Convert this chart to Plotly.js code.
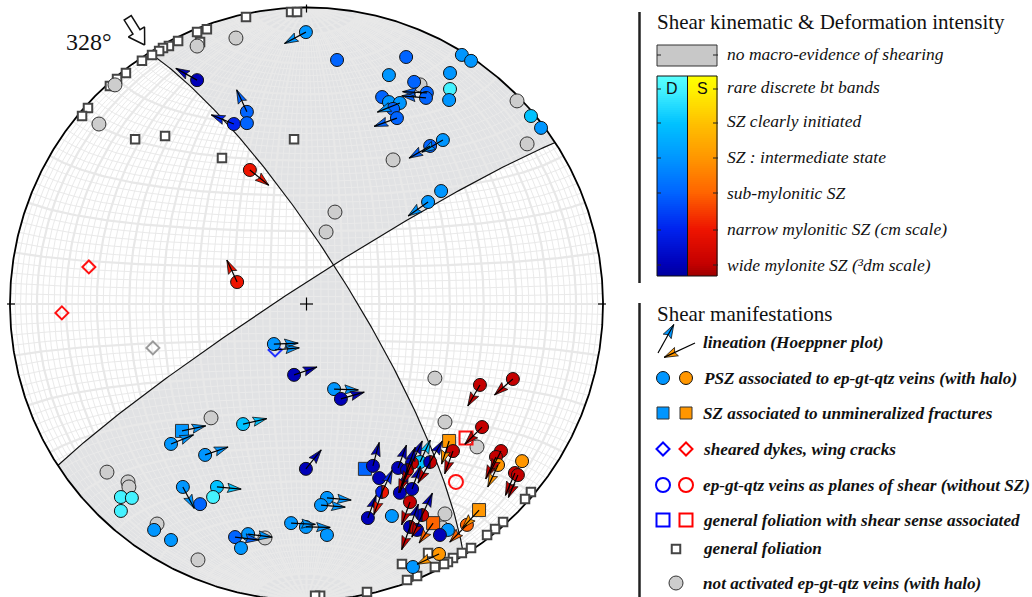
<!DOCTYPE html>
<html><head><meta charset="utf-8">
<script src="https://cdn.plot.ly/plotly-3.0.1.min.js"></script>
<style>html,body{margin:0;padding:0;background:#fff}#chart{width:1032px;height:597px}</style>
</head><body><div id="chart"></div>
<script>
// ---------------- DATA (equal-area lower-hemisphere coordinates, % of primitive radius) ----------------
// general foliation (poles)
const folX = [-5.2,-3.2,-20.4,-33.6,-36.9,-35.9,-43.3,-46.4,-48.4,-49.7,-52.1,-55.5,-60.9,-63.9,-66.3,-73.7,-75.7,-57.8,-47.7,-28.5,-4.2,
              75.7,73.7,66.3,63.6,60.9,55.5,52.4,49.4,47.7,46.4,43.3,37.3,33.9,20.4,4.6,2.9,41.0,32.2];
const folY = [98.5,98.5,96.8,92.7,91.7,88.4,88.7,87.0,86.3,85.3,84.0,82.0,77.9,75.9,73.5,66.1,63.4,55.6,56.7,49.2,55.6,
              -63.4,-65.8,-73.5,-75.9,-77.9,-82.3,-84.0,-85.7,-87.0,-87.7,-88.7,-91.7,-93.1,-97.1,-98.4,-98.4,-84.0,-87.7];
// not activated ep-gt-qtz veins
const grayX = [-36.9,-23.8,-64.6,-70.0,71.0,74.4,29.2,38.3,9.6,6.6,43.3,46.7,57.5,46.7,45.7,-32.2,-67.3,-60.2,-59.9,-50.4,-36.6,-14.0];
const grayY = [87.0,89.7,73.9,60.7,68.5,54.0,48.6,73.9,31.0,24.3,-25.0,-39.8,-48.2,-70.8,-75.5,-38.4,-56.7,-60.0,-61.7,-74.2,-86.3,-78.9];
// PSZ associated to veins: sense D (dextral/blue), S (sinistral/red), B (both); level 1..6
const pszX = [-0.2,10.3,33.6,27.8,52.4,55.5,48.4,48.4,48.1,36.3,40.6,40.3,25.5,27.8,31.5,29.2,30.5,46.0,41.7,75.7,79.1,45.4,41.0,-36.9,-20.1,-20.1,-24.5,-19.1,-23.4,
              -11.0,-4.2,9.3,11.6,-21.4,-45.7,-34.2,-0.2,-41.7,-35.9,-30.2,-31.5,-62.6,-58.9,-62.6,-51.4,-45.7,-5.2,-0.2,-24.1,-19.7,-22.1,6.9,4.9,6.9,35.9,47.7,45.0,
              58.5,69.6,59.2,49.4,65.6,63.9,64.6,72.7,70.3,71.3,54.1,44.7,
              22.4,24.5,25.5,30.9,33.9,35.6,38.3,41.7,31.5,35.6,34.9,20.7,28.8,34.9,39.0,37.3];
const pszY = [91.7,82.3,83.3,77.2,84.0,82.0,77.9,72.5,68.8,74.9,71.2,69.5,69.8,68.1,67.8,65.8,62.7,55.3,53.3,63.4,59.4,38.1,34.4,75.5,64.8,61.0,60.7,45.2,7.4,
              -13.5,-23.9,-28.7,-32.0,-40.5,-47.2,-50.9,-55.6,-61.7,-67.5,-61.7,-65.1,-65.1,-65.4,-69.8,-76.2,-79.6,-73.9,-75.2,-78.6,-77.6,-82.3,-65.4,-67.8,-77.9,-88.7,-76.2,-77.9,
              -27.3,-25.3,-41.5,-49.6,-49.6,-51.6,-54.3,-53.0,-57.0,-57.7,-74.5,-84.3,
              -54.6,-58.7,-63.4,-55.3,-56.0,-53.6,-53.3,-53.3,-63.7,-62.4,-66.8,-72.2,-71.5,-75.2,-71.2,-76.2];
const pszSense = ['D','D','D','D','D','D','D','D','D','D','D','D','D','D','D','D','D','D','D','D','D','D','D','D','D','D','D','S','S',
              'D','D','D','D','D','D','D','D','D','D','D','D','D','D','D','D','D','D','D','D','D','D','D','D','D','D','D','D',
              'S','S','S','S','S','S','S','S','S','S','S','S',
              'D','D','B','D','B','B','D','B','D','D','S','D','D','B','B','D'];
const pszLevel = [3,4,4,3,3,3,3,1,3,4,4,4,4,3,3,4,4,3,4,2,3,3,3,6,4,4,5,5,5,
              3,6,3,6,2,3,3,6,3,4,2,1,1,1,1,3,3,3,3,4,3,3,3,3,3,3,3,6,
              6,6,6,6,6,6,3,3,6,6,4,3,
              6,6,5,6,6,6,2,6,6,6,6,6,3,6,6,6];
// SZ associated to unmineralized fractures
const sqX = [-42.0,19.7,48.1,58.2,42.7];
const sqY = [-42.8,-55.6,-46.2,-69.5,-73.9];
const sqSense = ['D','D','S','S','S'];
const sqLevel = [3,4,3,3,4];
// sheared dykes / wing cracks (N = no shear sense)
const dykeX = [-73.4,-82.5,-51.8,-10.6];
const dykeY = [12.5,-3.0,-14.8,-15.5];
const dykeSense = ['S','S','N','D'];
// veins as planes of shear (without SZ)
const veinX = [50.4], veinY = [-60.0], veinSense = ['S'];
// general foliation with shear sense
const folssX = [53.8], folssY = [-45.2], folssSense = ['S'];
// lineations (Hoeppner plot): origin pole, slip azimuth (deg), sense, level
const linX = [-0.2,-36.9,-20.1,-24.5,-19.1,-23.4,40.6,40.3,31.5,30.5,46.0,41.7,41.0,-11.0,-10.6,-4.2,9.3,11.6,-21.4,-42.0,-45.7,-34.2,-0.2,-41.7,-30.2,-5.2,-0.2,-24.1,-19.7,6.9,4.9,
              58.5,69.6,59.2,48.1,49.4,65.6,63.9,64.6,70.3,71.3,58.2,54.1,44.7,
              22.4,30.9,33.9,33.9,35.6,35.6,38.3,41.7,41.7,25.5,25.5,34.9,34.9,39.0,39.0,31.5,34.9,35.6,42.7,20.7];
const linY = [91.7,75.5,64.8,60.7,45.2,7.4,71.2,69.5,67.8,62.7,55.3,53.3,34.4,-13.5,-15.5,-23.9,-28.7,-32.0,-40.5,-42.8,-47.2,-50.9,-55.6,-61.7,-61.7,-73.9,-75.2,-78.6,-77.6,-65.4,-67.8,
              -27.3,-25.3,-41.5,-46.2,-49.6,-49.6,-51.6,-54.3,-57.0,-57.7,-69.5,-74.5,-84.3,
              -54.6,-55.3,-56.0,-56.0,-53.6,-53.6,-53.3,-53.3,-53.3,-63.4,-63.4,-75.2,-75.2,-71.2,-71.2,-63.7,-66.8,-62.4,-73.9,-72.2];
const linAz = [242,299,335,292,129,335,273,275,248,250,240,240,235,88,85,71,92,74,77,78,68,71,39,152,95,93,91,97,97,95,95,
              210,229,225,198,200,207,205,205,203,203,223,225,245,
              15,20,20,200,25,205,25,30,210,25,200,20,200,25,205,20,200,20,215,20];
const linSense = ['D','D','D','D','S','S','D','D','D','D','D','D','D','D','D','D','D','D','D','D','D','D','D','D','D','D','D','D','D','D','D',
              'S','S','S','S','S','S','S','S','S','S','S','S','S',
              'D','D','D','S','D','S','D','D','S','D','S','D','S','D','S','D','S','D','S','D'];
const linLevel = [3,6,4,5,5,5,4,4,3,4,3,4,3,3,3,6,3,6,2,3,3,3,6,3,2,3,3,4,3,3,3,
              6,6,6,3,6,6,6,3,6,6,3,4,3,
              6,6,6,6,6,6,2,6,6,5,5,6,6,6,6,6,6,6,4,6];
// bounding planes (dip direction, dip)
const planeDD = [58, 327];
const planeDip = [78, 85];
// colour scales (level 1 = rare discrete bt bands ... 6 = wide mylonite)
const DCOL = ['#44f2ff','#00c2ff','#0096ff','#0064ff','#0022ee','#0000b8'];
const SCOL = ['#fff200','#ffc000','#ff9600','#ff6400','#ee1400','#c40000'];
const levelLabels = ['no macro-evidence of shearing','rare discrete bt bands','SZ clearly initiated','SZ : intermediate state',
                     'sub-mylonitic SZ','narrow mylonitic SZ (cm scale)','wide mylonite SZ (³dm scale)'];
const manifLabels = ['lineation (Hoeppner plot)','PSZ associated to ep-gt-qtz veins (with halo)','SZ associated to unmineralized fractures',
                     'sheared dykes, wing cracks','ep-gt-qtz veins as planes of shear (without SZ)','general foliation with shear sense associated',
                     'general foliation','not activated ep-gt-qtz veins (with halo)'];

// ---------------- GEOMETRY HELPERS ----------------
const D2R = Math.PI/180, K = 2.965, CX = 306.5, CY = 304, W = 1032, H = 597;
const LX = p => (p-CX)/K, LY = p => (CY-p)/K;      // layout pixel -> data (legend glyphs only)
const PX = p => p/W, PY = p => 1-p/H;              // layout pixel -> paper
const col = (s,l) => s==='D' ? DCOL[l-1] : s==='S' ? SCOL[l-1] : '#aaaaaa';
function proj(e,n,d){ const k = 100/Math.sqrt(1+d); return [e*k, n*k]; }

const traces = [];
function planeVecs(dd,dip){
  return { s:[Math.sin((dd-90)*D2R), Math.cos((dd-90)*D2R), 0],
           d:[Math.cos(dip*D2R)*Math.sin(dd*D2R), Math.cos(dip*D2R)*Math.cos(dd*D2R), Math.sin(dip*D2R)] };
}
function gcArc(pv,t0,t1){
  const xs=[],ys=[],N=150;
  for(let k=0;k<=N;k++){ const t=(t0+(t1-t0)*k/N)*D2R, c=Math.cos(t), n=Math.sin(t);
    const p=proj(c*pv.s[0]+n*pv.d[0], c*pv.s[1]+n*pv.d[1], c*pv.s[2]+n*pv.d[2]); xs.push(p[0]); ys.push(p[1]); }
  return [xs,ys];
}
function primArc(a0,a1){ const xs=[],ys=[]; for(let a=a0;a<=a1+1e-9;a+=0.5){ xs.push(100*Math.sin(a*D2R)); ys.push(100*Math.cos(a*D2R)); } return [xs,ys]; }
const cross=(a,b)=>[a[1]*b[2]-a[2]*b[1],a[2]*b[0]-a[0]*b[2],a[0]*b[1]-a[1]*b[0]];
const dot=(a,b)=>a[0]*b[0]+a[1]*b[1]+a[2]*b[2];
const P1 = planeVecs(planeDD[0],planeDip[0]), P2 = planeVecs(planeDD[1],planeDip[1]);
let Lv = cross(cross(P1.s,P1.d), cross(P2.s,P2.d)); if(Lv[2]<0) Lv = Lv.map(v=>-v);
const tL1 = Math.atan2(dot(Lv,P1.d),dot(Lv,P1.s))/D2R, tL2 = Math.atan2(dot(Lv,P2.d),dot(Lv,P2.s))/D2R;
const s1 = P1.s, s2 = P2.s;
const az1 = (Math.atan2(s1[0],s1[1])/D2R+360)%360, az2 = (Math.atan2(s2[0],s2[1])/D2R+360)%360;
function concat(...arcs){ const xs=[],ys=[]; arcs.forEach(a=>{xs.push(...a[0]); ys.push(...a[1]);}); return [xs,ys]; }
// N sector and S sector shading
const secN = concat(primArc(az1, az2+180+360*(az2+180<az1?1:0)), gcArc(P2,180,tL2), gcArc(P1,tL1,0));
const secS = concat(primArc((az1+180)%360, az2), gcArc(P2,0,tL2), gcArc(P1,tL1,180));
[secN,secS].forEach(s=>traces.push({type:'scatter',mode:'none',x:s[0],y:s[1],fill:'toself',fillcolor:'#e1e2e4',hoverinfo:'skip'}));

// Schmidt net grid
const gmX=[],gmY=[],gMX=[],gMY=[];
for(let lam=-88; lam<=88; lam+=2){
  const major = lam%10===0, lim = major?90:80, tx = major?gMX:gmX, ty = major?gMY:gmY;
  for(let phi=-lim; phi<=lim; phi+=1){ const p=phi*D2R,l=lam*D2R; const q=proj(Math.cos(p)*Math.sin(l),Math.sin(p),Math.cos(p)*Math.cos(l)); tx.push(q[0]); ty.push(q[1]); }
  tx.push(null); ty.push(null);
}
for(let phi=-88; phi<=88; phi+=2){
  const major = phi%10===0, tx = major?gMX:gmX, ty = major?gMY:gmY;
  for(let lam=-90; lam<=90; lam+=1){ const p=phi*D2R,l=lam*D2R; const q=proj(Math.cos(p)*Math.sin(l),Math.sin(p),Math.cos(p)*Math.cos(l)); tx.push(q[0]); ty.push(q[1]); }
  tx.push(null); ty.push(null);
}
traces.push({type:'scatter',mode:'lines',x:gmX,y:gmY,line:{color:'#eaeaea',width:1},hoverinfo:'skip'});
traces.push({type:'scatter',mode:'lines',x:gMX,y:gMY,line:{color:'#e8e8e8',width:2.2},hoverinfo:'skip'});

// great circles, primitive, ticks, centre
[gcArc(P1,0,180), gcArc(P2,0,180)].forEach(g=>traces.push({type:'scatter',mode:'lines',x:g[0],y:g[1],line:{color:'#111',width:1.2},hoverinfo:'skip'}));
const prim = primArc(0,360);
traces.push({type:'scatter',mode:'lines',x:prim[0],y:prim[1],line:{color:'#000',width:1.8},hoverinfo:'skip'});
traces.push({type:'scatter',mode:'lines',hoverinfo:'skip',line:{color:'#000',width:1.2},
  x:[0,0,null,-98.3,-101,null,98.3,101,null,-2.2,2.2,null,0,0],
  y:[98.3,101,null,0,0,null,0,0,null,0,0,null,-2.2,2.2]});

// general foliation and not-activated veins
traces.push({type:'scatter',mode:'markers',x:folX,y:folY,hoverinfo:'skip',marker:{symbol:'square',size:8.5,color:'#fff',line:{color:'#444',width:2}}});
traces.push({type:'scatter',mode:'markers',x:grayX,y:grayY,hoverinfo:'skip',marker:{symbol:'circle',size:14,color:'#cdcdcd',line:{color:'#333',width:1}}});
// open symbols
traces.push({type:'scatter',mode:'markers',x:dykeX,y:dykeY,hoverinfo:'skip',marker:{symbol:'diamond-open',size:10,color:dykeSense.map(s=>s==='D'?'#2030ff':s==='S'?'#ff1010':'#9a9a9a'),line:{width:2}}});
traces.push({type:'scatter',mode:'markers',x:veinX,y:veinY,hoverinfo:'skip',marker:{symbol:'circle-open',size:14,color:veinSense.map(s=>s==='D'?'#0000ff':'#ff1010'),line:{width:2}}});
traces.push({type:'scatter',mode:'markers',x:folssX,y:folssY,hoverinfo:'skip',marker:{symbol:'square-open',size:13,color:folssSense.map(s=>s==='D'?'#0000ff':'#ff1010'),line:{width:2}}});
// squares
traces.push({type:'scatter',mode:'markers',x:sqX,y:sqY,hoverinfo:'skip',marker:{symbol:'square',size:13,color:sqSense.map((s,i)=>col(s,sqLevel[i])),line:{color:'#333',width:1}}});
// single-sense PSZ circles
const sIdx = pszX.map((_,i)=>i).filter(i=>pszSense[i]!=='B');
traces.push({type:'scatter',mode:'markers',x:sIdx.map(i=>pszX[i]),y:sIdx.map(i=>pszY[i]),hoverinfo:'skip',
  marker:{symbol:'circle',size:13,color:sIdx.map(i=>col(pszSense[i],pszLevel[i])),line:{color:'#111',width:1}}});
// bicolour (D + S) PSZ circles as two half-discs
const polys = {};
function addPoly(c,xs,ys){ if(!polys[c]) polys[c]={x:[],y:[]}; polys[c].x.push(...xs,null); polys[c].y.push(...ys,null); }
const rr = 6.5/K;
pszX.forEach((x,i)=>{ if(pszSense[i]!=='B') return; const y=pszY[i];
  const lx=[],ly=[],rx=[],ry=[];
  for(let a=90;a<=270;a+=10){ lx.push(x+rr*Math.cos(a*D2R)); ly.push(y+rr*Math.sin(a*D2R)); }
  for(let a=-90;a<=90;a+=10){ rx.push(x+rr*Math.cos(a*D2R)); ry.push(y+rr*Math.sin(a*D2R)); }
  lx.push(lx[0]); ly.push(ly[0]); rx.push(rx[0]); ry.push(ry[0]);
  addPoly(col('D',pszLevel[i]),lx,ly); addPoly(col('S',pszLevel[i]),rx,ry);
});
Object.keys(polys).forEach(c=>traces.push({type:'scatter',mode:'lines',x:polys[c].x,y:polys[c].y,fill:'toself',fillcolor:c,line:{color:'#111',width:1},hoverinfo:'skip'}));

// lineation arrows
const heads = {}, shaftX = [], shaftY = [];
function arrow(x0,y0,az,len,c){
  const ux=Math.sin(az*D2R), uy=Math.cos(az*D2R), tx=x0+len*ux, ty=y0+len*uy;
  const hl=4.6, hw=1.55, bx=tx-hl*ux, by=ty-hl*uy, nx=tx-0.85*hl*ux, ny=ty-0.85*hl*uy, qx=uy, qy=-ux;
  if(!heads[c]) heads[c]={x:[],y:[]};
  heads[c].x.push(tx,bx+hw*qx,nx,bx-hw*qx,tx,null); heads[c].y.push(ty,by+hw*qy,ny,by-hw*qy,ty,null);
  shaftX.push(x0,tx,null); shaftY.push(y0,ty,null);
}
linX.forEach((x,i)=>arrow(x,linY[i],linAz[i],8.2,col(linSense[i],linLevel[i])));
// legend arrows
arrow(LX(658),LY(353),29,11,DCOL[2]);
arrow(LX(695),LY(343),245,11.5,SCOL[2]);
Object.keys(heads).forEach(c=>traces.push({type:'scatter',mode:'lines',x:heads[c].x,y:heads[c].y,fill:'toself',fillcolor:c,line:{color:'#111',width:0.8},hoverinfo:'skip'}));
traces.push({type:'scatter',mode:'lines',x:shaftX,y:shaftY,line:{color:'#000',width:1.2},hoverinfo:'skip'});

// 328° open arrow
(function(){ const a=328*D2R, ux=-Math.sin(a), uy=-Math.cos(a), qx=uy, qy=-ux;
  const tx=103*Math.sin(a), ty=103*Math.cos(a), hl=5.2, hw=3.2, sw=1.4, Lt=10.8;
  const pts=[[0,0],[-hl,hw],[-hl,sw],[-Lt,sw],[-Lt,-sw],[-hl,-sw],[-hl,-hw],[0,0]];
  traces.push({type:'scatter',mode:'lines',fill:'toself',fillcolor:'#fff',line:{color:'#111',width:1.5},hoverinfo:'skip',
    x:pts.map(p=>tx+p[0]*ux+p[1]*qx), y:pts.map(p=>ty+p[0]*uy+p[1]*qy)});
})();

// ---------------- LEGEND ----------------
const NB=100, yEdges=[], zD=[], zS=[];
for(let k=0;k<=NB;k++) yEdges.push(LY(276-200*k/NB));
for(let k=0;k<NB;k++){ zD.push([k/(NB-1)]); zS.push([k/(NB-1)]); }
const ticksPos=[0.055,0.23,0.415,0.59,0.765,0.935];
const csD=[[0,'#0000a0']].concat(ticksPos.map((p,i)=>[p,DCOL[5-i]])).concat([[1,'#58ffff']]);
const csS=[[0,'#a00000']].concat(ticksPos.map((p,i)=>[p,SCOL[5-i]])).concat([[1,'#ffff00']]);
traces.push({type:'heatmap',x:[LX(657),LX(687.5)],y:yEdges,z:zD,colorscale:csD,zmin:0,zmax:1,showscale:false,hoverinfo:'skip'});
traces.push({type:'heatmap',x:[LX(687.5),LX(717)],y:yEdges,z:zS,colorscale:csS,zmin:0,zmax:1,showscale:false,hoverinfo:'skip'});
const g=(sym,x,y,size,color,lc,lw)=>traces.push({type:'scatter',mode:'markers',x:[LX(x)],y:[LY(y)],hoverinfo:'skip',marker:{symbol:sym,size:size,color:color,line:{color:lc,width:lw}}});
g('circle',663,378,13,DCOL[2],'#111',1); g('circle',686,378,13,SCOL[2],'#111',1);
g('square',663,413,12,DCOL[2],'#333',1); g('square',686,413,12,SCOL[2],'#333',1);
g('diamond-open',663,449,10,'#0000ff',null,2); g('diamond-open',686,449,10,'#ff0000',null,2);
g('circle-open',663,485,14,'#0000ff',null,2); g('circle-open',686,485,14,'#ff0000',null,2);
g('square-open',663,520,13,'#0000ff',null,2); g('square-open',686,520,13,'#ff0000',null,2);
g('square',676,549,8.5,'#fff','#444',2);
g('circle',676,583,14,'#cdcdcd','#333',1);

const shapes = [];
const ln=(x0,y0,x1,y1,c,w)=>shapes.push({type:'line',xref:'paper',yref:'paper',x0:PX(x0),y0:PY(y0),x1:PX(x1),y1:PY(y1),line:{color:c,width:w}});
ln(639.5,12,639.5,283,'#222',2.5); ln(639.5,303,639.5,597,'#222',2.5);
shapes.push({type:'rect',xref:'paper',yref:'paper',x0:PX(657),x1:PX(717),y0:PY(45),y1:PY(66),fillcolor:'#c8c8c8',line:{color:'#333',width:1}});
shapes.push({type:'rect',xref:'paper',yref:'paper',x0:PX(657),x1:PX(717),y0:PY(76),y1:PY(276),line:{color:'#111',width:1}});
ln(687.5,76,687.5,276,'#111',1);
[55,89,123,158,193,230,265].forEach(y=>{ ln(657,y,661,y,'#222',1); ln(713,y,718,y,'#222',1); });

const ann = [];
const SERIF='Liberation Serif, Times New Roman, serif';
const txt=(t,x,y,size)=>ann.push({text:t,xref:'paper',yref:'paper',x:PX(x),y:PY(y),xanchor:'left',yanchor:'middle',showarrow:false,
  font:{family:SERIF,size:size,color:'#111'}});
txt('Shear kinematic &amp; Deformation intensity',655,22,21);
const lvY=[54,87,121,157,193,229,265];
levelLabels.forEach((t,i)=>txt('<i>'+t+'</i>',725,lvY[i],17.5));
txt('Shear manifestations',655,314,21);
const mY=[342,378,413,449,485,520,548,583];
manifLabels.forEach((t,i)=>txt('<b><i>'+t+'</i></b>',701,mY[i],17.2));
const ctr=(t,x,y,size,fam)=>ann.push({text:t,xref:'paper',yref:'paper',x:PX(x),y:PY(y),xanchor:'center',yanchor:'middle',showarrow:false,font:{family:fam,size:size,color:'#111'}});
ctr('D',672,89,16,'Liberation Sans, Arial, sans-serif');
ctr('S',702,89,16,'Liberation Sans, Arial, sans-serif');
ctr('328°',89,42,24,SERIF);

const layout = {
  width:W, height:H, margin:{l:0,r:0,t:0,b:0,pad:0}, showlegend:false,
  paper_bgcolor:'#fff', plot_bgcolor:'#fff',
  xaxis:{range:[LX(0),LX(W)],visible:false,fixedrange:true},
  yaxis:{range:[LY(H),LY(0)],visible:false,fixedrange:true},
  shapes:shapes, annotations:ann
};
Plotly.newPlot('chart',traces,layout,{staticPlot:true,displayModeBar:false});
</script></body></html>
